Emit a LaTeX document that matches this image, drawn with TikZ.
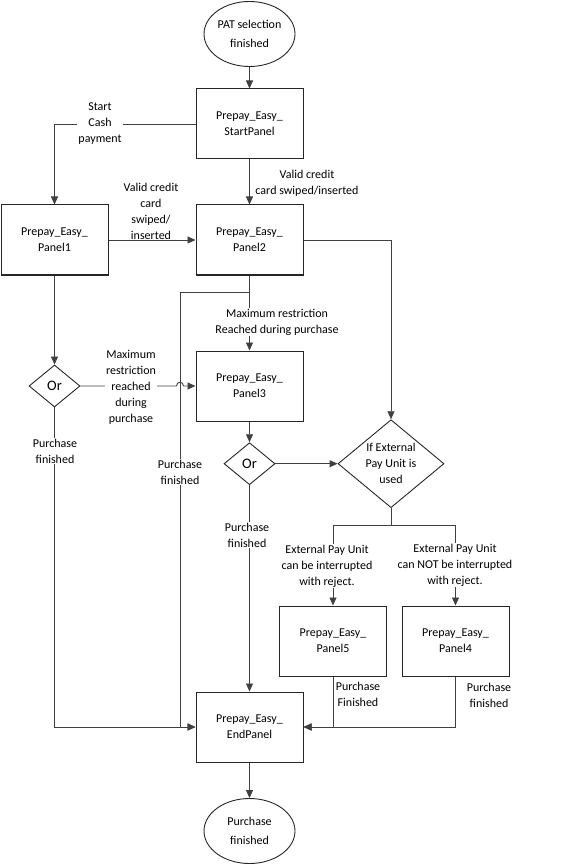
\documentclass[tikz,border=0pt]{standalone}
\usepackage{fontspec}
\setmainfont{Carlito}
\usetikzlibrary{shapes.geometric,arrows.meta}
\begin{document}
\begin{tikzpicture}[x=1pt,y=-1pt,
  every node/.style={font=\fontsize{12}{16}\selectfont, align=center, inner sep=0pt},
  panel/.style={draw=black!85, line width=1pt, minimum width=107pt, minimum height=70pt},
  term/.style={ellipse, draw=black!85, line width=0.9pt, minimum width=91pt, minimum height=65pt, font=\fontsize{12}{19}\selectfont},
  decide/.style={diamond, draw=black!85, line width=0.9pt, aspect=1.2},
  orsign/.style={decide, minimum width=51pt, minimum height=42pt, font=\fontsize{14.5}{16}\selectfont},
  conn/.style={draw=black!75, line width=0.9pt},
  arr/.style={conn, -{Triangle[length=8pt,width=7pt]}},
  lbl/.style={fill=white, inner sep=1pt},
]
\useasboundingbox (0,0) rectangle (575,866);

% nodes
\node[term] (start) at (249.5,34) {PAT selection\\finished};
\node[panel] (sp) at (249.5,124) {Prepay\_Easy\_\\StartPanel};
\node[panel] (p1) at (54.5,240) {Prepay\_Easy\_\\Panel1};
\node[panel] (p2) at (249.5,240) {Prepay\_Easy\_\\Panel2};
\node[panel] (p3) at (249.5,386) {Prepay\_Easy\_\\Panel3};
\node[orsign] (or1) at (54.5,386) {Or};
\node[orsign] (or2) at (249.5,463.7) {Or};
\node[decide, minimum width=106pt, minimum height=88pt] (ife) at (391,463.7) {If External\\Pay Unit is\\used};
\node[panel] (p5) at (333,641) {Prepay\_Easy\_\\Panel5};
\node[panel] (p4) at (455.5,641) {Prepay\_Easy\_\\Panel4};
\node[panel] (ep) at (249.5,727) {Prepay\_Easy\_\\EndPanel};
\node[term] (end) at (249.5,831) {Purchase\\finished};

\coordinate (j1) at (249.5,292.7);
\coordinate (j2) at (180,727);
\coordinate (j3) at (391,525.7);

% connectors
\draw[arr] (start) -- (sp);
\draw[arr] (sp.west) -| (p1.north);
\draw[arr] (sp) -- (p2);
\draw[arr] (p1) -- (p2);
\draw[arr] (p2.east) -| (ife.north);
\draw[arr] (p2) -- (p3);
\draw[arr] (j1) -| (j2) -- (ep.west);
\draw[arr] (p1) -- (or1);
\draw[arr] (or1.east) -- (176.5,386) .. controls (176.5,381) and (183.5,381) .. (183.5,386) -- (p3.west);
\draw[arr] (or1.south) |- (ep.west);
\draw[arr] (p3) -- (or2);
\draw[arr] (or2) -- (ife);
\draw[arr] (or2) -- (ep);
\draw[conn] (ife.south) -- (j3);
\draw[arr] (j3) -| (p5.north);
\draw[arr] (j3) -| (p4.north);
\draw[arr] (p5.south) |- (ep.east);
\draw[arr] (p4.south) |- (ep.east);
\draw[arr] (ep) -- (end);

% labels
\node[lbl] (l1) at (100,124) {Start\\Cash\\payment};
\node[lbl] (l2) at (307,183) {Valid credit\\card swiped/inserted};
\node[lbl] (l3) at (151,211) {Valid credit\\card\\swiped/\\inserted};
\node[lbl] (l4) at (277,322) {Maximum restriction\\Reached during purchase};
\node[lbl] (l5) at (131,387) {Maximum\\restriction\\reached\\during\\purchase};
\node[lbl] (l6) at (55,451) {Purchase\\finished};
\node[lbl] (l7) at (180,472) {Purchase\\finished};
\node[lbl] (l8) at (247,535) {Purchase\\finished};
\node[lbl] (l9) at (327,566) {External Pay Unit\\can be interrupted\\with reject.};
\node[lbl] (l10) at (455,565) {External Pay Unit\\can NOT be interrupted\\with reject.};
\node[lbl] (l11) at (358,694) {Purchase\\Finished};
\node[lbl] (l12) at (489,695) {Purchase\\finished};
\end{tikzpicture}
\end{document}
